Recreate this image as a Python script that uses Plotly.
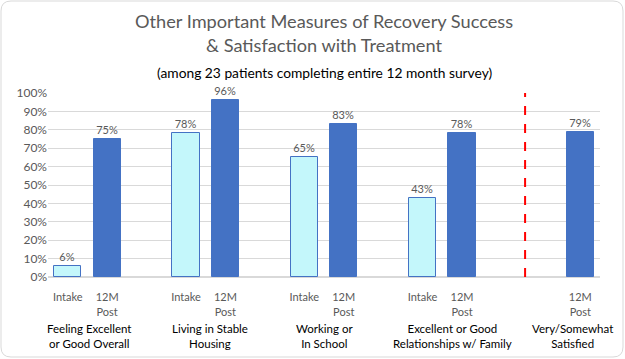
import plotly.graph_objects as go

# ---- data ----
slot_labels = ["Intake", "12M<br>Post", "", "Intake", "12M<br>Post", "", "Intake", "12M<br>Post",
               "", "Intake", "12M<br>Post", "", "", "12M<br>Post"]
intake_slots = [0, 3, 6, 9]
intake_values = [0.06, 0.78, 0.65, 0.43]
post_slots = [1, 4, 7, 10, 13]
post_values = [0.75, 0.96, 0.83, 0.78, 0.79]
group_labels = ["Feeling Excellent<br>or Good Overall", "Living in Stable<br>Housing",
                "Working or<br>In School", "Excellent or Good<br>Relationships w/ Family",
                "Very/Somewhat<br>Satisfied"]
group_pos = [0.55, 3.6, 6.5, 9.75, 12.8]
divider_pos = 11.6
y_ticks = [i / 10 for i in range(11)]

W, H = 625, 359
L, R, T, B = 48, 25, 93, 82
PW, PH = W - L - R, H - T - B
FONT = "Lato, 'Open Sans', sans-serif"

fig = go.Figure()
fig.add_bar(x=intake_slots, y=intake_values, width=0.69,
            marker=dict(color="#c4f7fb", line=dict(color="#4472c4", width=1)),
            text=[f"{v:.0%}" for v in intake_values], textposition="outside",
            textfont=dict(color="#595959", size=11, family=FONT), cliponaxis=False)
fig.add_bar(x=post_slots, y=post_values, width=0.69,
            marker=dict(color="#4472c4", line=dict(color="#4472c4", width=1)),
            text=[f"{v:.0%}" for v in post_values], textposition="outside",
            textfont=dict(color="#595959", size=11, family=FONT), cliponaxis=False)

def px(x):
    return (x - L) / PW

def py(y):
    return (H - B - y) / PH

# rounded chart border
r = 10
x0, x1, y0, y1 = 1, W - 2, 1, H - 2
path = (f"M {px(x0 + r)},{py(y0)} L {px(x1 - r)},{py(y0)} "
        f"Q {px(x1)},{py(y0)} {px(x1)},{py(y0 + r)} L {px(x1)},{py(y1 - r)} "
        f"Q {px(x1)},{py(y1)} {px(x1 - r)},{py(y1)} L {px(x0 + r)},{py(y1)} "
        f"Q {px(x0)},{py(y1)} {px(x0)},{py(y1 - r)} L {px(x0)},{py(y0 + r)} "
        f"Q {px(x0)},{py(y0)} {px(x0 + r)},{py(y0)} Z")
fig.add_shape(type="path", path=path, xref="paper", yref="paper",
              line=dict(color="#d9d9d9", width=1), layer="below")

# dashed divider
fig.add_shape(type="line", x0=divider_pos, x1=divider_pos, y0=0, y1=1.0,
              xref="x", yref="y", line=dict(color="#ff0000", width=2, dash="dash"))

for lab, pos in zip(group_labels, group_pos):
    fig.add_annotation(x=pos, y=py(320), xref="x", yref="paper", text=lab, showarrow=False,
                       font=dict(size=11.5, color="#000000", family=FONT), yanchor="top")

fig.add_annotation(x=0.5, y=py(8), xref="paper", yref="paper", yanchor="top",
                   text="Other Important Measures of Recovery Success<br>& Satisfaction with Treatment",
                   showarrow=False, font=dict(size=18.2, color="#595959", family=FONT))
fig.add_annotation(x=0.5, y=py(62), xref="paper", yref="paper", yanchor="top",
                   text="(among 23 patients completing entire 12 month survey)",
                   showarrow=False, font=dict(size=13.8, color="#000000", family=FONT))

fig.update_layout(
    width=W, height=H, margin=dict(l=L, r=R, t=T, b=B, autoexpand=False),
    paper_bgcolor="white", plot_bgcolor="white", showlegend=False, bargap=0,
    barmode="overlay",
    xaxis=dict(range=[-0.5, 13.5], tickvals=list(range(14)), ticktext=slot_labels,
               tickfont=dict(size=11, color="#595959", family=FONT), showgrid=False,
               zeroline=False, showline=False, ticks="outside", ticklen=10,
               tickcolor="rgba(0,0,0,0)", automargin=False, fixedrange=True),
    yaxis=dict(range=[0, 1.0], tickvals=y_ticks, tickformat=".0%",
               tickfont=dict(size=12, color="#595959", family=FONT),
               gridcolor="#d9d9d9", gridwidth=1, zeroline=True, zerolinecolor="#d9d9d9",
               showline=False, ticks="", ticklen=0, automargin=False),
)
fig.write_html("out.html", config={"displayModeBar": False},
               post_script="document.body.style.margin='0';document.body.style.overflow='hidden';")
